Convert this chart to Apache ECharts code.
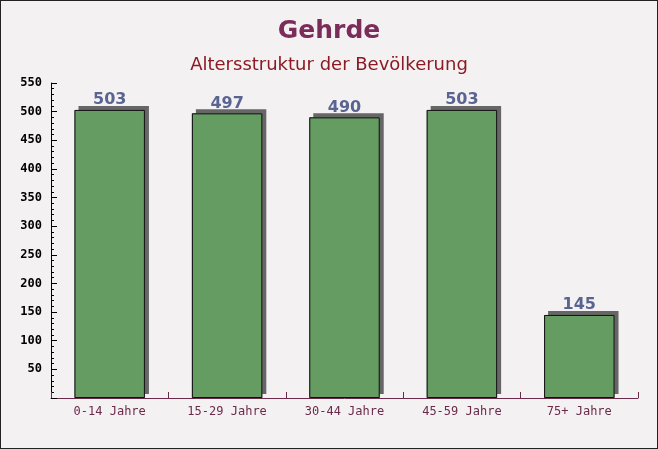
<!DOCTYPE html>
<html><head><meta charset="utf-8">
<script src="https://cdn.jsdelivr.net/npm/echarts@6/dist/echarts.min.js"></script>
<style>html,body{margin:0;padding:0;}#c{width:656px;height:447px;border:1px solid #222;background:#f4f1f3;}</style>
</head><body><div id="c"></div>
<script>
const categories = ['0-14 Jahre','15-29 Jahre','30-44 Jahre','45-59 Jahre','75+ Jahre'];
const values = [503, 497, 490, 503, 145];
const chart = echarts.init(document.getElementById('c'));
chart.setOption({
  animation:false,
  title:[
    {text:'Gehrde',left:'center',top:13,textStyle:{fontFamily:'DejaVu Sans',fontWeight:'bold',fontSize:25,color:'#7b2d5a'}},
    {text:'Altersstruktur der Bevölkerung',left:'center',top:50,textStyle:{fontFamily:'DejaVu Sans',fontWeight:'normal',fontSize:18,color:'#8b1a22'}}
  ],
  grid:{left:50,right:19,top:82,bottom:50},
  xAxis:{type:'category',data:categories,
    axisLine:{lineStyle:{color:'#6b2a4a',width:1}},
    axisTick:{show:true,alignWithLabel:false,inside:true,length:6,lineStyle:{color:'#6b2a4a'}},
    axisLabel:{fontFamily:'DejaVu Sans Mono',fontSize:12,color:'#6b2a4a',margin:8}},
  yAxis:{type:'value',min:0,max:550,interval:50,
    axisLine:{show:true,lineStyle:{color:'#000',width:1}},
    axisTick:{show:true,inside:true,length:6,lineStyle:{color:'#000'}},
    minorTick:{show:true,splitNumber:5,length:3,lineStyle:{color:'#000'}},
    splitLine:{show:false},
    axisLabel:{fontFamily:'DejaVu Sans Mono',fontWeight:'bold',fontSize:12,color:'#000',margin:9,
      formatter:v=>v===0?'':String(v)}},
  series:[
    {type:'bar',data:values,barWidth:'60%',silent:true,z:1,
      itemStyle:{color:'#666',shadowColor:'#666',shadowBlur:0,shadowOffsetX:4,shadowOffsetY:-4}},
    {type:'bar',data:values,barWidth:'60%',barGap:'-100%',z:2,
      itemStyle:{color:'#659c62',borderColor:'#111',borderWidth:1},
      label:{show:true,position:'top',distance:2,fontFamily:'DejaVu Sans',fontWeight:'bold',fontSize:16,color:'#5a6490'}}]
});
</script></body></html>
